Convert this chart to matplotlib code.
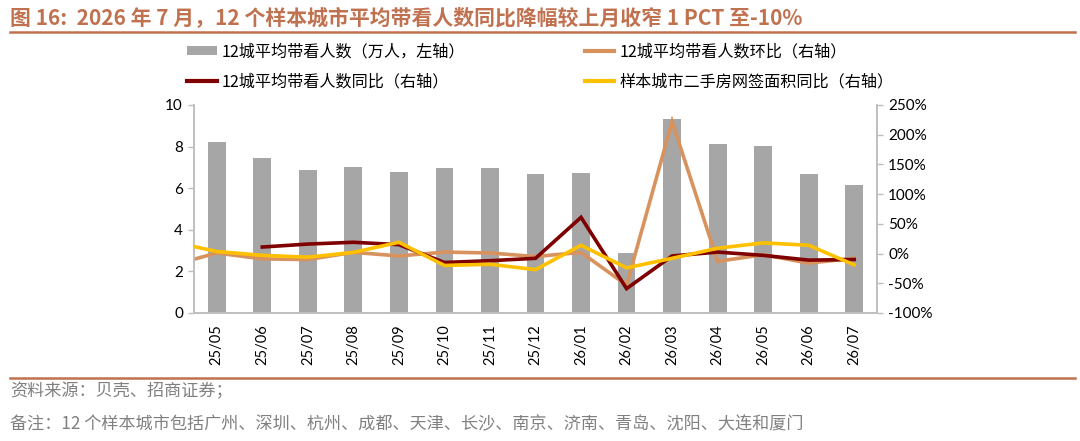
import numpy as np
import matplotlib
matplotlib.use("Agg")
import matplotlib.pyplot as plt
from matplotlib.patches import Patch
from matplotlib.lines import Line2D
from matplotlib.ticker import FuncFormatter

plt.rcParams['font.family'] = ['Lato', 'Noto Sans CJK SC', 'DejaVu Sans']

# ---- data ----
months = ["25/04", "25/05", "25/06", "25/07", "25/08", "25/09", "25/10", "25/11",
          "25/12", "26/01", "26/02", "26/03", "26/04", "26/05", "26/06", "26/07"]
visits = [np.nan, 8.21, 7.47, 6.86, 7.04, 6.80, 6.98, 6.98, 6.67, 6.75, 2.90,
          9.31, 8.14, 8.02, 6.67, 6.17]                     # 万人
visits_mom = [-20, 1, -9, -10, 2, -4, 2.5, 1, -5, 2, -53, 222, -13, -2, -16, -8]   # %
visits_yoy = [np.nan, np.nan, 11, 16, 19, 15, -15, -12, -8, 61, -59, -4, 2.5, -3, -11, -10]  # %
area_yoy = [20, 3.5, -3, -6, 2, 19, -20, -18, -27, 14, -24, -8, 9, 18, 14, -19]   # %

title = "图 16:  2026 年 7 月，12 个样本城市平均带看人数同比降幅较上月收窄 1 PCT 至-10%"
lab_bar = "12城平均带看人数（万人，左轴）"
lab_mom = "12城平均带看人数环比（右轴）"
lab_yoy = "12城平均带看人数同比（右轴）"
lab_area = "样本城市二手房网签面积同比（右轴）"
source = "资料来源：贝壳、招商证券；"
note = "备注：12 个样本城市包括广州、深圳、杭州、成都、天津、长沙、南京、济南、青岛、沈阳、大连和厦门"

# ---- styles ----
c_bar = "#A6A6A6"
c_mom = "#D8925E"
c_yoy = "#7F0000"
c_area = "#FFC000"
c_title = "#C0714F"
c_axis = "#BFBFBF"
cjk = ['Noto Sans CJK SC', 'DejaVu Sans']

fig = plt.figure(figsize=(10.8, 4.41), dpi=100)
ax = fig.add_axes([194/1080, 1-313/441, (877-194)/1080, (313-105)/441])
ax2 = ax.twinx()

x = np.arange(len(months))
ax.bar(x, visits, width=0.39, color=c_bar, zorder=1)
ax2.plot(x, visits_mom, color=c_mom, lw=2.6, solid_joinstyle='miter', zorder=2)
ax2.plot(x, visits_yoy, color=c_yoy, lw=2.6, solid_joinstyle='miter', zorder=3)
ax2.plot(x, area_yoy, color=c_area, lw=2.6, solid_joinstyle='miter', zorder=4)

ax.set_xlim(0.5, len(months) - 0.5)
ax.set_ylim(0, 10)
ax.set_yticks(np.arange(0, 11, 2))
ax2.set_ylim(-100, 250)
ax2.set_yticks(np.arange(-100, 251, 50))
ax2.yaxis.set_major_formatter(FuncFormatter(lambda v, p: f"{int(v)}%"))

ax.set_xticks(x[1:])
ax.set_xticklabels(months[1:], rotation=90, fontsize=10.5)
ax.tick_params(axis='x', length=0, pad=8)
ax.tick_params(axis='y', length=4, width=1, color=c_axis, labelsize=11, pad=4)
ax2.tick_params(axis='y', length=4, width=1, color=c_axis, labelsize=11, pad=4)

for a in (ax, ax2):
    a.spines['top'].set_visible(False)
    for s in ('left', 'right', 'bottom'):
        a.spines[s].set_color(c_axis)
        a.spines[s].set_linewidth(1.2)

# legend
handles = [Patch(facecolor=c_bar, edgecolor='none'),
           Line2D([], [], color=c_yoy, lw=3),
           Line2D([], [], color=c_mom, lw=3),
           Line2D([], [], color=c_area, lw=3)]
labels = [lab_bar, lab_yoy, lab_mom, lab_area]
leg = fig.legend(handles, labels, ncol=2, loc='upper left',
                 bbox_to_anchor=(176/1080, 1-32/441), frameon=False,
                 prop={'family': cjk, 'size': 11.6},
                 handlelength=1.85, handleheight=0.5, handletextpad=0.3,
                 columnspacing=7.4, labelspacing=0.8, borderpad=0.2)

# title and notes
fig.text(10/1080, 1-18/441, title, fontsize=15, fontweight='bold', color=c_title,
         va='center', ha='left', family=cjk)
fig.add_artist(Line2D([10/1080, 1075/1080], [1-32/441, 1-32/441],
                      color=c_title, lw=1.8, transform=fig.transFigure))
fig.add_artist(Line2D([10/1080, 1075/1080], [1-378/441, 1-378/441],
                      color=c_title, lw=1.8, transform=fig.transFigure))
fig.text(10/1080, 1-391/441, source, fontsize=12.3, color="#808080",
         va='center', ha='left', family=cjk)
fig.text(10/1080, 1-424/441, note, fontsize=12.3, color="#808080",
         va='center', ha='left', family=cjk)

fig.savefig("out.png", dpi=100)
